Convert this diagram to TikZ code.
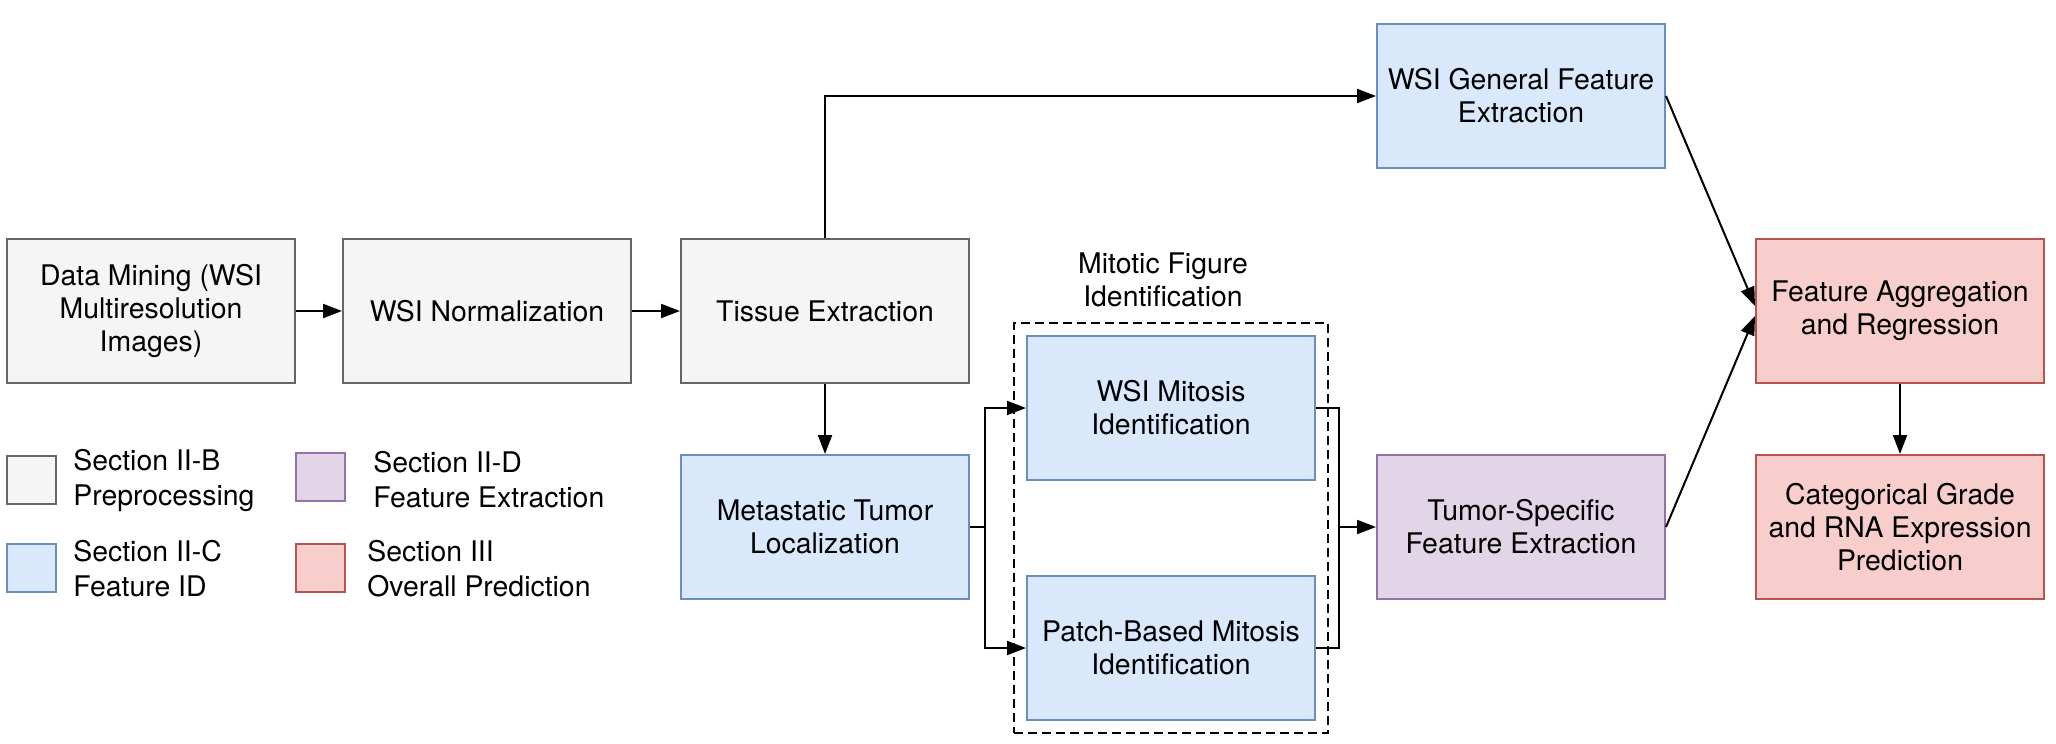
\documentclass[tikz,border=0pt]{standalone}
\usepackage{fontspec}
\setmainfont{TeX Gyre Heros}
\usetikzlibrary{arrows.meta,fit}

\definecolor{grayfill}{HTML}{F5F5F5}
\definecolor{grayline}{HTML}{666666}
\definecolor{bluefill}{HTML}{DAE8FC}
\definecolor{blueline}{HTML}{6C8EBF}
\definecolor{purplefill}{HTML}{E1D5E7}
\definecolor{purpleline}{HTML}{9673A6}
\definecolor{redfill}{HTML}{F8CECC}
\definecolor{redline}{HTML}{B85450}

\begin{document}
\begin{tikzpicture}[x=0.5pt,y=-0.5pt,
        font=\fontsize{14.2}{16.5}\selectfont,
        box/.style={draw, line width=1pt, minimum width=144pt, minimum height=72pt, align=center, inner sep=2pt},
        prep/.style={box, draw=grayline, fill=grayfill},
        featid/.style={box, draw=blueline, fill=bluefill},
        featext/.style={box, draw=purpleline, fill=purplefill},
        pred/.style={box, draw=redline, fill=redfill},
        legendbox/.style={draw, line width=1pt, minimum width=24.5pt, minimum height=24pt, inner sep=0pt},
        legendtext/.style={anchor=west, align=left, inner sep=0pt, font=\fontsize{14.2}{17.5}\selectfont},
        arr/.style={-{Triangle[length=9.5pt,width=7pt]}, line width=1pt},
        link/.style={line width=1pt}]
        \useasboundingbox (0,0) rectangle (2056,744);

        % Preprocessing chain
        \node[prep] (mining) at (151,311) {Data Mining (WSI\\Multiresolution\\Images)};
        \node[prep] (norm) at (487,311) {WSI Normalization};
        \node[prep] (tissue) at (825,311) {Tissue Extraction};
        % Feature identification
        \node[featid] (general) at (1521,96) {WSI General Feature\\Extraction};
        \node[featid] (tumor) at (825,527) {Metastatic Tumor\\Localization};
        \node[featid] (wsimit) at (1171,408) {WSI Mitosis\\Identification};
        \node[featid] (patchmit) at (1171,648) {Patch-Based Mitosis\\Identification};
        \node[draw, line width=1pt, dash pattern=on 4.5pt off 2.5pt, inner sep=6pt, fit=(wsimit)(patchmit)] (mitgroup) {};
        \node[align=center] (mitlabel) at (1163,280) {Mitotic Figure\\Identification};
        % Feature extraction and prediction
        \node[featext] (specific) at (1521,527) {Tumor-Specific\\Feature Extraction};
        \node[pred] (aggr) at (1900,311) {Feature Aggregation\\and Regression};
        \node[pred] (grade) at (1900,527) {Categorical Grade\\and RNA Expression\\Prediction};

        % Legend
        \node[legendbox, draw=grayline, fill=grayfill] (keyprep) at (31,480) {};
        \node[legendtext] (txtprep) at (73,480) {Section II-B\\Preprocessing};
        \node[legendbox, draw=blueline, fill=bluefill] (keyid) at (31,568) {};
        \node[legendtext] (txtid) at (73,569) {Section II-C\\Feature ID};
        \node[legendbox, draw=purpleline, fill=purplefill] (keyext) at (320,477) {};
        \node[legendtext] (txtext) at (373,480) {Section II-D\\Feature Extraction};
        \node[legendbox, draw=redline, fill=redfill] (keypred) at (320,568) {};
        \node[legendtext] (txtpred) at (367,569) {Section III\\Overall Prediction};

        % Connectors
        \coordinate (split) at (985,527);
        \coordinate (merge) at (1339,527);
        \draw[arr] (mining) -- (norm);
        \draw[arr] (norm) -- (tissue);
        \draw[arr] (tissue.north) |- (general.west);
        \draw[arr] (tissue) -- (tumor);
        \draw[link] (tumor.east) -- (split);
        \draw[arr] (split) |- (wsimit.west);
        \draw[arr] (split) |- (patchmit.west);
        \draw[link] (wsimit.east) -| (merge);
        \draw[link] (patchmit.east) -| (merge);
        \draw[arr] (merge) -- (specific.west);
        \draw[arr] (general.east) -- ([yshift=2.5pt]aggr.west);
        \draw[arr] (specific.east) -- ([yshift=-2.5pt]aggr.west);
        \draw[arr] (aggr) -- (grade);
    \end{tikzpicture}
\end{document}
